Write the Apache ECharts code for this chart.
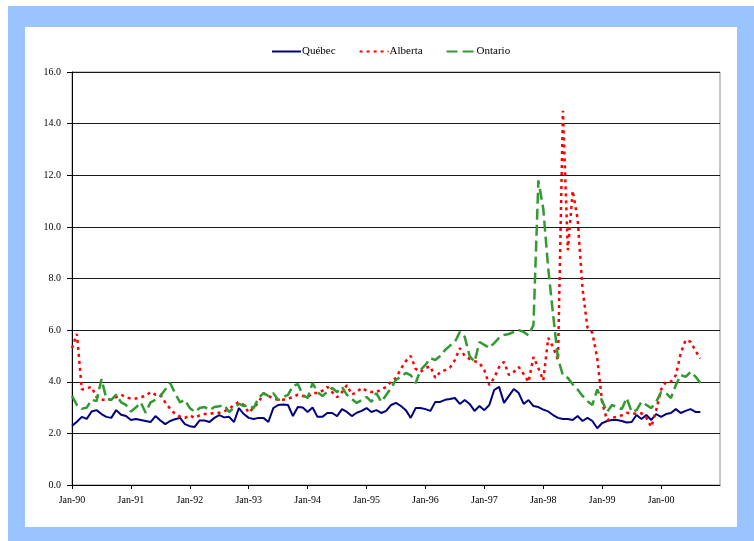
<!DOCTYPE html>
<html>
<head>
<meta charset="utf-8">
<script src="https://cdn.jsdelivr.net/npm/echarts@6/dist/echarts.min.js"></script>
<style>
html,body{margin:0;padding:0;background:#fff;}
#blue{position:absolute;left:8px;top:6px;width:746px;height:535px;background:#99c4ff;}
#white{position:absolute;left:25px;top:27px;width:712px;height:500px;background:#fff;}
#chart{position:absolute;left:0;top:0;width:754px;height:541px;}
</style>
</head>
<body>
<div id="blue"></div>
<div id="white"></div>
<div id="chart"></div>
<script>
// Monthly series, Jan-90 .. Sep-00
const monthNames = ['Jan','Feb','Mar','Apr','May','Jun','Jul','Aug','Sep','Oct','Nov','Dec'];
const yearCodes = ['90','91','92','93','94','95','96','97','98','99','00'];
const tickLabels = ['Jan-90','Jan-91','Jan-92','Jan-93','Jan-94','Jan-95','Jan-96','Jan-97','Jan-98','Jan-99','Jan-00'];

const quebec = [
 2.29,2.45,2.64,2.56,2.85,2.9,2.75,2.64,2.6,2.9,2.72,2.67,
 2.52,2.56,2.52,2.48,2.44,2.67,2.5,2.36,2.48,2.55,2.6,2.36,
 2.28,2.25,2.5,2.5,2.44,2.6,2.71,2.62,2.64,2.44,2.98,2.75,
 2.6,2.56,2.6,2.6,2.44,2.98,3.1,3.12,3.1,2.67,3.02,3.0,
 2.83,3.0,2.64,2.64,2.79,2.79,2.67,2.94,2.83,2.67,2.8,2.87,
 2.98,2.83,2.9,2.79,2.87,3.1,3.18,3.06,2.9,2.6,2.98,2.98,
 2.94,2.87,3.22,3.22,3.3,3.33,3.37,3.14,3.29,3.14,2.87,3.06,
 2.9,3.1,3.68,3.8,3.18,3.45,3.72,3.56,3.14,3.29,3.06,3.02,
 2.92,2.85,2.71,2.6,2.56,2.56,2.52,2.67,2.48,2.6,2.48,2.2,
 2.4,2.48,2.52,2.52,2.48,2.42,2.44,2.71,2.56,2.71,2.52,2.75,
 2.64,2.75,2.79,2.94,2.79,2.87,2.94,2.83,2.83
];
const alberta = [
 5.3,5.85,3.7,3.75,3.8,3.4,3.3,3.3,3.3,3.4,3.5,3.4,
 3.35,3.35,3.4,3.45,3.6,3.5,3.5,3.2,2.95,2.75,2.65,2.6,
 2.7,2.6,2.7,2.75,2.75,2.8,2.8,2.85,2.95,3.1,3.22,3.1,
 2.8,3.0,3.2,3.55,3.45,3.35,3.3,3.3,3.35,3.4,3.5,3.45,
 3.4,3.56,3.56,3.65,3.8,3.6,3.4,3.6,3.87,3.5,3.6,3.76,
 3.65,3.6,3.6,3.7,3.8,4.0,4.15,4.5,4.8,5.0,4.5,4.38,
 4.53,4.6,4.15,4.38,4.45,4.55,4.84,5.3,5.0,4.88,4.8,4.73,
 4.45,3.87,4.15,4.57,4.77,4.26,4.38,4.57,4.3,3.99,4.96,4.53,
 4.05,5.7,5.35,4.84,14.5,9.1,11.4,10.3,7.6,6.1,5.9,4.9,
 3.2,2.5,2.6,2.64,2.7,2.79,2.79,2.75,2.78,2.6,2.25,2.9,
 3.7,4.0,4.0,4.25,5.1,5.62,5.55,5.2,4.9
];
const ontario = [
 3.45,3.1,2.95,3.0,3.3,3.25,4.1,3.35,3.3,3.5,3.2,3.1,
 2.85,3.0,3.2,2.8,3.2,3.3,3.45,3.7,3.95,3.55,3.2,3.3,
 2.98,2.83,2.98,3.02,2.9,3.02,3.05,3.1,2.83,3.0,3.14,3.06,
 3.1,2.98,3.37,3.56,3.45,3.56,3.29,3.4,3.49,3.84,3.91,3.49,
 3.37,3.95,3.6,3.45,3.6,3.76,3.6,3.8,3.49,3.33,3.18,3.29,
 3.41,3.22,3.56,3.22,3.49,3.76,4.07,4.2,4.34,4.26,3.95,4.46,
 4.65,4.92,4.84,5.0,5.23,5.4,5.54,5.93,5.74,5.0,4.77,5.54,
 5.43,5.31,5.5,5.7,5.81,5.85,5.93,6.0,5.93,5.8,6.2,11.8,
 10.7,8.4,6.6,4.9,4.25,4.15,3.9,3.7,3.45,3.25,3.1,3.7,
 3.25,2.83,3.1,3.02,2.94,3.37,2.83,2.9,3.22,3.1,2.98,3.22,
 3.6,3.56,3.37,3.87,4.26,4.19,4.38,4.2,3.95
];

// category axis: every month Jan-90 .. Jan-01
const categories = [];
yearCodes.forEach(y => monthNames.forEach(m => categories.push(m + '-' + y)));
categories.push('Jan-01');

const font = 'Liberation Serif';
const chart = echarts.init(document.getElementById('chart'), null, {renderer: 'canvas'});
chart.setOption({
  animation: false,
  backgroundColor: 'transparent',
  legend: {
    top: 41,
    left: 266,
    itemWidth: 29,
    itemHeight: 8,
    itemGap: 23,
    textStyle: {fontFamily: font, fontSize: 11, color: '#000', padding: [0, 0, 0, -4]},
    itemStyle: {color: 'transparent', borderWidth: 0, opacity: 0},
    data: ['Québec', 'Alberta', 'Ontario']
  },
  grid: {
    left: 72, right: 34, top: 72, bottom: 56,
    show: true, borderColor: '#8c8c8c', borderWidth: 1
  },
  xAxis: {
    type: 'category',
    data: categories,
    boundaryGap: false,
    axisLine: {lineStyle: {color: '#000', width: 1}},
    axisTick: {show: true, length: 4, interval: i => i % 12 === 0 && i < 132, lineStyle: {color: '#000'}},
    axisLabel: {
      interval: i => i % 12 === 0 && i < 132,
      formatter: v => tickLabels.indexOf(v) >= 0 ? v : '',
      fontFamily: font, fontSize: 10, color: '#000', margin: 10
    },
    splitLine: {show: false}
  },
  yAxis: {
    type: 'value',
    min: 0, max: 16, interval: 2,
    axisLine: {show: true, lineStyle: {color: '#000', width: 1}},
    axisTick: {show: true, length: 5, lineStyle: {color: '#000'}},
    axisLabel: {formatter: v => v.toFixed(1), fontFamily: font, fontSize: 10, color: '#000', margin: 11},
    splitLine: {lineStyle: {color: '#1a1a1a', width: 1}}
  },
  series: [
    {name: 'Québec', type: 'line', data: quebec, symbol: 'none', color: '#000080',
     lineStyle: {color: '#000080', width: 2, type: 'solid'}},
    {name: 'Alberta', type: 'line', data: alberta, symbol: 'none', color: '#ff0000',
     lineStyle: {color: '#ff0000', width: 2.5, type: [3, 4]}},
    {name: 'Ontario', type: 'line', data: ontario, symbol: 'none', color: '#339933',
     lineStyle: {color: '#339933', width: 2.5, type: [11, 5]}}
  ]
});
</script>
</body>
</html>
